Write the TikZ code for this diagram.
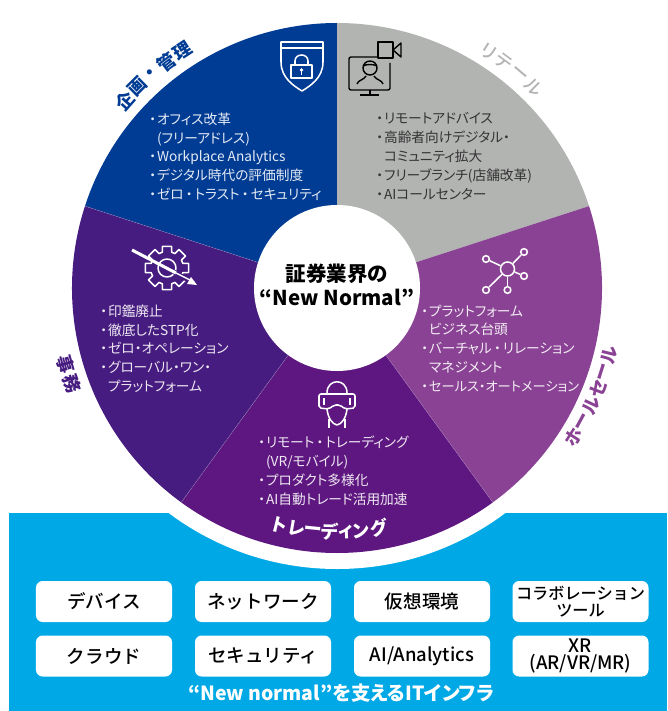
\documentclass[tikz,border=0pt]{standalone}
\usepackage{fontspec}
\setmainfont{Noto Sans CJK JP}[RawFeature=+palt]
\newfontface\medfont{Noto Sans CJK JP Medium}[RawFeature=+palt]
\newfontface\boxfont{Noto Sans CJK JP Medium}
\usepackage{tikz}
\definecolor{planblue}{HTML}{003B94}
\definecolor{retailgrey}{HTML}{B2B4B2}
\definecolor{wholepurple}{HTML}{8A4394}
\definecolor{tradepurple}{HTML}{5E1780}
\definecolor{backpurple}{HTML}{471C80}
\definecolor{infrablue}{HTML}{00A9E6}
\newcommand{\bul}{\makebox[0.57em][l]{・}}
\newcommand{\widedot}{\makebox[0.8em][c]{・}}
\tikzset{
    itemtext/.style={anchor=north west, align=left, inner sep=0pt, font=\fontsize{11.7}{16.1}\selectfont},
    arclabel/.style={inner sep=0pt, font=\fontsize{15.5}{15.5}\selectfont\bfseries},
    infrabox/.style={fill=white, rounded corners=0.2cm, minimum width=4.08cm, minimum height=1.23cm, inner sep=0pt, align=center, font=\fontsize{15.8}{15.8}\boxfont},
    sat/.style={circle, draw=white, line width=1.3pt, inner sep=0pt, minimum size=0.2cm},
    icon/.style={white, line width=1.3pt, line join=round}
}

\begin{document}
\begin{tikzpicture}[x=0.03cm, y=-0.03cm]
    \useasboundingbox (0, 0) rectangle (667, 711);
    \coordinate (O) at (337, 288);
    \fill[infrablue] (9, 513) rectangle (667, 711);
    \begin{scope}[shift={(O)}, y=0.03cm]
        \fill[white] (0, 0) circle [radius = 281];
        \fill[planblue] (0, 0) -- (90:265) arc [start angle=90, end angle=162, radius=265] -- cycle;
        \fill[retailgrey] (0, 0) -- (18:265) arc [start angle=18, end angle=90, radius=265] -- cycle;
        \fill[wholepurple] (0, 0) -- (-54:265) arc [start angle=-54, end angle=18, radius=265] -- cycle;
        \fill[tradepurple] (0, 0) -- (-126:265) arc [start angle=-126, end angle=-54, radius=265] -- cycle;
        \fill[backpurple] (0, 0) -- (162:265) arc [start angle=162, end angle=234, radius=265] -- cycle;
        \foreach \ang in {162, 234, -54}
            \draw[white, opacity=0.35, line width=0.3pt] (0, 0) -- (\ang:265);
        % labels round the wheel
        \foreach \ch/\ang [count=\i] in {企/138.6, 画/134.7, ・/131, 管/127, 理/123}
            \node[arclabel, text=planblue, rotate=\ang-90] (plan\i) at (\ang:283) {\ch};
        \foreach \ch/\ang [count=\i] in {リ/57.4, テ/53.6, ー/49.6, ル/45.6}
            \node[arclabel, text=retailgrey, font=\fontsize{15.5}{15.5}\medfont, rotate=\ang-90] (retail\i) at (\ang:281) {\ch};
        \foreach \ch/\ang [count=\i] in {ホ/-32.3, ー/-28.6, ル/-24.9, セ/-21.2, ー/-17.5, ル/-13.8}
            \node[arclabel, text=wholepurple, rotate=\ang+90] (whole\i) at (\ang:280) {\ch};
        \foreach \ch/\ang [count=\i] in {事/195.8, 務/199.8}
            \node[arclabel, text=backpurple, rotate=\ang+90] (back\i) at (\ang:282) {\ch};
        \foreach \ch/\ang [count=\i] in {ト/-103.6, レ/-99.6, ー/-95.6, デ/-91.6, ィ/-87.9, ン/-84.4, グ/-80.2}
            \node[arclabel, text=white, rotate=\ang+90] (trade\i) at (\ang:244) {\ch};
    \end{scope}
    \node[circle, fill=white, minimum size=4.98cm, inner sep=0pt] (hub) at (O) {};
    \node[inner sep=0pt, align=center, font=\fontsize{17.5}{20.5}\selectfont\bfseries] (hubtext) at (337, 284.5) {証券業界の\\“New Normal”};

    \node[itemtext, text=white!90!planblue] (planitems) at (149, 112.5) {\bul オフィス改革\\\hspace{0.57em}(フリーアドレス)\\\bul Workplace Analytics\\\bul デジタル時代の評価制度\\\bul ゼロ\widedot トラスト\widedot セキュリティ};
    \node[itemtext, text=black!80] (retailitems) at (376, 112.5) {\bul リモートアドバイス\\\bul 高齢者向けデジタル・\\\hspace{0.57em}コミュニティ拡大\\\bul フリーブランチ(店舗改革)\\\bul AIコールセンター};
    \node[itemtext, text=white!90!backpurple] (backitems) at (100, 304.5) {\bul 印鑑廃止\\\bul 徹底したSTP化\\\bul ゼロ・オペレーション\\\bul グローバル・ワン・\\\hspace{0.57em}プラットフォーム};
    \node[itemtext, text=white!90!wholepurple] (wholeitems) at (421, 304.5) {\bul プラットフォーム\\\hspace{0.57em}ビジネス台頭\\\bul バーチャル\widedot リレーション\\\hspace{0.57em}マネジメント\\\bul {\fontsize{11.3}{16.1}\selectfont セールス・オートメーション}};
    \node[itemtext, text=white!90!tradepurple] (tradeitems) at (258, 435.5) {\bul リモート\widedot トレーディング\\\hspace{0.57em}(VR/モバイル)\\\bul プロダクト多様化\\\bul AI自動トレード活用加速};

    % shield
    \draw[icon] (281, 42) -- (323, 42) -- (323, 62) .. controls (323, 78) and (310, 86) .. (302, 91) .. controls (294, 86) and (281, 78) .. (281, 62) -- cycle;
    \draw[icon] (281, 48) -- (323, 48);
    \draw[icon] (291, 65) rectangle (312, 78);
    \draw[icon] (295, 65) -- (295, 61) .. controls (295, 53) and (308, 53) .. (308, 61) -- (308, 65);
    \fill[white] (301.5, 70) circle [radius = 1.8];
    \fill[white] (300.7, 70) rectangle (302.3, 75);

    % video call
    \draw[black, line width=1.2pt, rounded corners=0.06cm] (378, 57) -- (349, 57) -- (349, 90) -- (390, 90) -- (390, 63);
    \draw[black, line width=1.2pt] (370, 90) -- (370, 95) (360, 95) -- (379, 95);
    \draw[black, line width=1.2pt, line join=round] (378, 42) rectangle (393, 58);
    \draw[black, line width=1.2pt, line join=round] (393, 50) -- (401, 43) -- (401, 57) -- cycle;
    \draw[black, line width=1.2pt] (370, 68) circle [radius = 7];
    \draw[black, line width=1.2pt] (363, 66) .. controls (366, 64) and (374, 64) .. (377, 66);
    \draw[black, line width=1.2pt] (357, 84) .. controls (358, 80) and (364, 80) .. (366, 76) (383, 84) .. controls (382, 80) and (376, 80) .. (374, 76);

    % gear with slash
    \begin{scope}[shift={(167, 268)}, y=0.03cm]
        \draw[icon] (-12:22) \foreach \a in {0, 45, ..., 315} { -- (\a-12:22) -- (\a+12:22) -- (\a+16:16.5) -- (\a+29:16.5)} -- cycle;
        \draw[icon] (0, 0) circle [radius = 9];
    \end{scope}
    \draw[backpurple, line width=4pt] (174, 272) -- (190, 281);
    \draw[white, line width=2.6pt] (132, 250) -- (176, 273);
    \draw[white, line width=1.2pt] (176, 273) -- (194, 282);
    \fill[white] (197, 285) -- (187, 284) -- (191, 277) -- cycle;

    % network
    \node[sat, minimum size=0.42cm] (nethub) at (507.5, 269) {};
    \foreach \x/\y [count=\i] in {486/259, 524/252, 524/276, 507.5/290, 486/290} {
        \node[sat] (net\i) at (\x, \y) {};
        \draw[icon] (nethub) -- (net\i);
    }

    % headset
    \draw[icon] (327, 393) .. controls (327, 378) and (347, 378) .. (347, 393);
    \draw[icon] (327, 409) .. controls (328, 418) and (332, 424) .. (337, 425) .. controls (342, 424) and (346, 418) .. (347, 409);
    \draw[icon] (329, 419) -- (329, 428) (345, 419) -- (345, 428);
    \draw[icon, rounded corners=0.06cm] (319, 394) -- (355, 394) -- (355, 408) -- (345, 409) -- (340, 405) -- (334, 405) -- (329, 409) -- (319, 408) -- cycle;
    \draw[icon] (324, 398) -- (324, 405) (350, 398) -- (350, 405);

    % infrastructure boxes
    \node[infrabox] (device) at (104, 601.5) {デバイス};
    \node[infrabox] (network) at (263, 601.5) {ネットワーク};
    \node[infrabox] (virtual) at (422, 601.5) {仮想環境};
    \node[infrabox, font=\fontsize{13.8}{14.5}\boxfont] (collab) at (580.5, 601.5) {コラボレーション\\ツール};
    \node[infrabox] (cloud) at (104, 656) {クラウド};
    \node[infrabox] (security) at (263, 656) {セキュリティ};
    \node[infrabox, font=\fontsize{15.8}{15.8}\boxfont] (analytics) at (422, 656) {AI/Analytics};
    \node[infrabox, font=\fontsize{15.8}{15}\boxfont] (xr) at (580.5, 656) {XR\\(AR/VR/MR)};
    \node[text=white, inner sep=0pt, font=\fontsize{16.6}{16.6}\selectfont\bfseries] (infratitle) at (341, 693.5) {“New normal”を支えるITインフラ};
\end{tikzpicture}
\end{document}
